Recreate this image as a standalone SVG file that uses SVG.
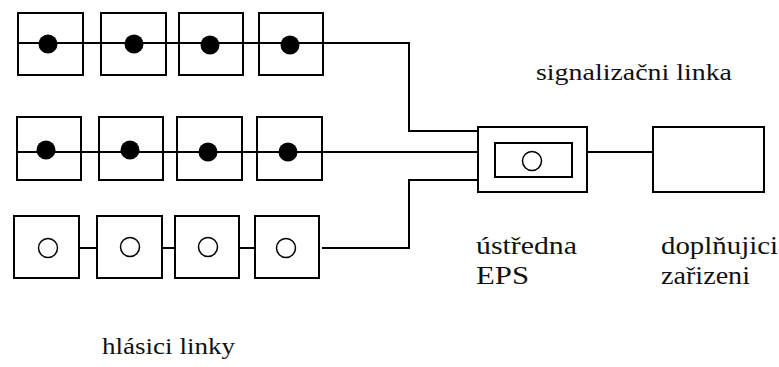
<svg xmlns="http://www.w3.org/2000/svg" width="779" height="367" viewBox="0 0 779 367">
<style>
.box{fill:none;stroke:#000;stroke-width:2}
.wire{fill:none;stroke:#000;stroke-width:2}
.dot{fill:#000}
.ring{fill:#fff;stroke:#000;stroke-width:1.5}
text{fill:#111}
</style>
<rect width="779" height="367" fill="#fff"/>
<g id="connectors">
<polyline class="wire" points="18,43 409,43 409,131 478,131"/>
<polyline class="wire" points="17,152 478,152"/>
<line class="wire" x1="79" y1="248" x2="97" y2="248"/>
<line class="wire" x1="162" y1="248" x2="175" y2="248"/>
<line class="wire" x1="239" y1="248" x2="255" y2="248"/>
<polyline class="wire" points="322,248 409,248 409,180 478,180"/>
<line class="wire" x1="587" y1="152" x2="653" y2="152"/>
</g>
<g id="r1n1"><rect class="box" x="18" y="13" width="65" height="62"/><circle class="dot" cx="48" cy="44" r="9.5"/></g>
<g id="r1n2"><rect class="box" x="101" y="13" width="65" height="62"/><circle class="dot" cx="134" cy="44" r="9.5"/></g>
<g id="r1n3"><rect class="box" x="179" y="13" width="64" height="62"/><circle class="dot" cx="210" cy="45" r="9.5"/></g>
<g id="r1n4"><rect class="box" x="259" y="13" width="64" height="62"/><circle class="dot" cx="290" cy="45" r="9.5"/></g>
<g id="r2n1"><rect class="box" x="17" y="117" width="64" height="63"/><circle class="dot" cx="46" cy="150" r="9.5"/></g>
<g id="r2n2"><rect class="box" x="99" y="117" width="64" height="63"/><circle class="dot" cx="130" cy="150" r="9.5"/></g>
<g id="r2n3"><rect class="box" x="177" y="117" width="65" height="63"/><circle class="dot" cx="208" cy="152" r="9.5"/></g>
<g id="r2n4"><rect class="box" x="257" y="117" width="65" height="63"/><circle class="dot" cx="288" cy="152" r="9.5"/></g>
<g id="r3n1"><rect class="box" x="14" y="216" width="65" height="62"/><circle class="ring" cx="48" cy="248" r="9.5"/></g>
<g id="r3n2"><rect class="box" x="97" y="216" width="65" height="62"/><circle class="ring" cx="130" cy="247" r="9.5"/></g>
<g id="r3n3"><rect class="box" x="175" y="216" width="64" height="62"/><circle class="ring" cx="208" cy="247" r="9.5"/></g>
<g id="r3n4"><rect class="box" x="255" y="216" width="64" height="62"/><circle class="ring" cx="286" cy="248" r="9.5"/></g>
<g id="eps"><rect class="box" x="478" y="127" width="109" height="65"/><rect class="box" x="495" y="143" width="77" height="34"/><circle class="ring" cx="532" cy="161" r="9.5"/></g>
<g id="doplnujici"><rect class="box" x="653" y="127" width="111" height="65"/></g>
<g id="labels">
<text font-family="Liberation Serif, serif" font-size="24" x="536" y="80" textLength="196" lengthAdjust="spacingAndGlyphs">signalizačni linka</text>
<text font-family="Liberation Serif, serif" font-size="26" x="476" y="254" textLength="101" lengthAdjust="spacingAndGlyphs">ústředna</text>
<text font-family="Liberation Serif, serif" font-size="26" x="476" y="284" textLength="53" lengthAdjust="spacingAndGlyphs">EPS</text>
<text font-family="Liberation Serif, serif" font-size="26" x="661" y="254" textLength="117" lengthAdjust="spacingAndGlyphs">doplňujici</text>
<text font-family="Liberation Serif, serif" font-size="26" x="661" y="284" textLength="89" lengthAdjust="spacingAndGlyphs">zařizeni</text>
<text font-family="Liberation Serif, serif" font-size="24" x="102" y="354" textLength="133" lengthAdjust="spacingAndGlyphs">hlásici linky</text>
</g>
</svg>
